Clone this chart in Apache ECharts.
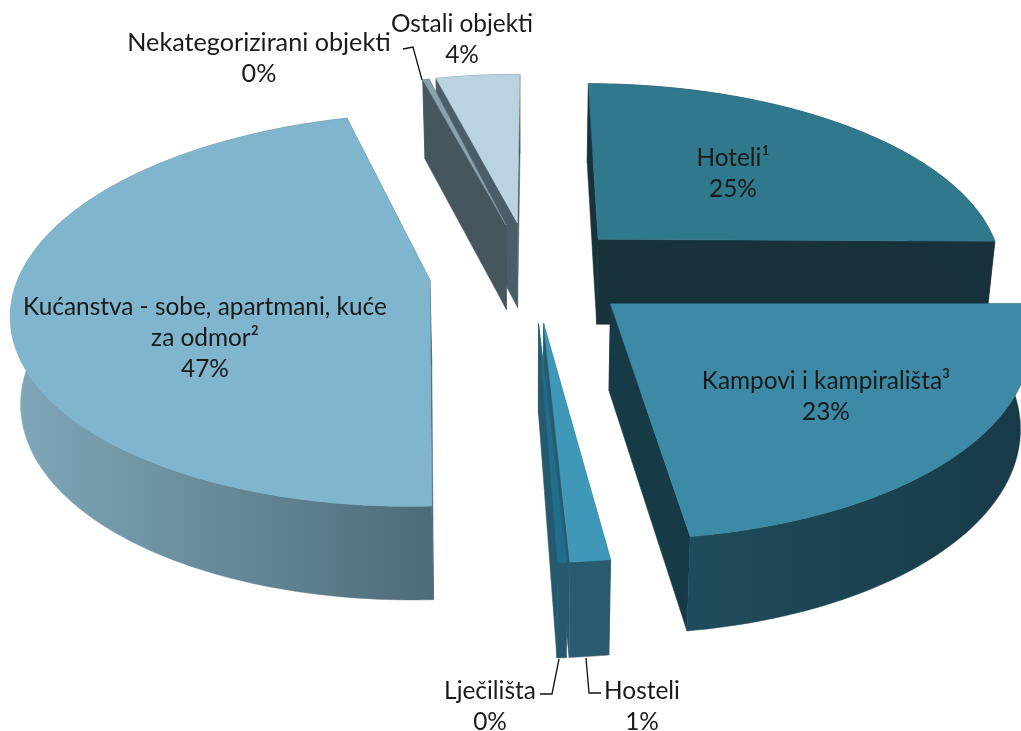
<!DOCTYPE html>
<html><head><meta charset="utf-8">
<style>html,body{margin:0;padding:0;background:#fff}#c{width:1021px;height:731px}</style>
<script src="https://cdn.jsdelivr.net/npm/echarts@6/dist/echarts.min.js"></script>
</head><body><div id="c"></div>
<script>
var categories = ['Hoteli¹','Kampovi i kampirališta³','Hosteli','Lječilišta','Kućanstva - sobe, apartmani, kuće\nza odmor²','Nekategorizirani objekti','Ostali objekti'];
var sliceValues = [25, 22.7, 1.3, 0.3, 46.5, 0.3, 3.9];
var percentLabels = ['25%','23%','1%','0%','47%','0%','4%'];

var topColors = ['#30788c','#3c8aa6','#3f98b8','#1f6f8c','#7fb5cd','#8aa2ae','#b9d3e0'];
var wallColors = [['#17343e','#17323b'],['#1f4c5c','#173a47'],['#2a5a6e','#2a5a6e'],['#26596d','#26596d'],['#7fa8ba','#4e6b79'],['#46565f','#46565f'],['#4b5d68','#4b5d68']];
var paintOrder = [3,7,5,6,4,2,1];
var labelAnchor = [[733,174],[826,397],[642,707],[490,707],[205,338],[259,58],[462,40]];
var labelSize = [24.4,24.4,24.4,24.4,24.4,25.2,24.4];
var leaders = [null,null,[[586,658],[589,693],[601,693]],[[540,694],[552,694],[559,659]],null,[[403,49],[413,47],[422,80]],null];
var sliceShift = [[2,0],[2,0],[-1,0],[2,0],[-1,0],[7,0],[3,0]];
var apexShift = [[1,-2],[5,0],[7,3],[4,3],[2,0],[-4,-5],[-1,-6]];

var VIEW = {cx:527, cy:273, a:408, b:190, k:0.15, depth:86, explode:0.242, shrink:0.98};
function project(X, Y, bottom){
  var s = 1/(1 - VIEW.k*Y);
  var x = VIEW.cx + VIEW.a*X*s, y = VIEW.cy + VIEW.b*Y*s;
  if(bottom){ x = VIEW.cx + (x-VIEW.cx)*VIEW.shrink; y += VIEW.depth*Math.sqrt(s); }
  return [x,y];
}
var total = sliceValues.reduce(function(a,b){return a+b;},0);
function sliceGeom(idx){
  var before = sliceValues.slice(0,idx).reduce(function(a,b){return a+b;},0);
  return {from: before/total*2*Math.PI, to:(before+sliceValues[idx])/total*2*Math.PI};
}
function renderSlice(params, api){
  var i = params.dataIndex, g = sliceGeom(i), mid=(g.from+g.to)/2;
  var ox = VIEW.explode*Math.sin(mid), oy = -VIEW.explode*Math.cos(mid);
  var sh = sliceShift[i], ah = apexShift[i];
  function mv(p,d){ return [p[0]+d[0],p[1]+d[1]]; }
  function rim(t){ return [ox+Math.sin(t), oy-Math.cos(t)]; }
  var steps = Math.max(4, Math.ceil((g.to-g.from)/0.02)), top=[], bot=[];
  for(var n=0;n<=steps;n++){
    var t=g.from+(g.to-g.from)*n/steps, p=rim(t);
    top.push(mv(project(p[0],p[1],false),sh)); bot.push(mv(project(p[0],p[1],true),sh));
  }
  var apexT=mv(mv(project(ox,oy,false),sh),ah), apexB=mv(mv(project(ox,oy,true),sh),ah);
  var z=paintOrder[i]*10, kids=[];
  var solid=wallColors[i][1];
  function poly(points,fill,zz){ kids.push({type:'polygon',shape:{points:points},style:{fill:fill,stroke:fill,lineWidth:0.5},z2:zz}); }
  poly([apexT,top[0],bot[0],apexB],solid,z);
  poly([apexT,top[steps],bot[steps],apexB],solid,z);
  var grad=new echarts.graphic.LinearGradient(0,0,1,0,[{offset:0,color:wallColors[i][0]},{offset:1,color:wallColors[i][1]}]);
  poly(top.concat(bot.slice().reverse()),grad,z+1);
  poly([apexT].concat(top),topColors[i],z+2);
  var lines=categories[i].split('\n').concat([percentLabels[i]]);
  var la=labelAnchor[i];
  kids.push({type:'text',z2:1000,style:{text:lines.join('\n'),x:la[0],y:la[1],align:'center',verticalAlign:'middle',
    font:labelSize[i]+'px Lato, "Open Sans", sans-serif',fill:'#1a1a1a',lineHeight:31}});
  if(leaders[i]) kids.push({type:'polyline',z2:1000,shape:{points:leaders[i]},style:{fill:'none',stroke:'#111',lineWidth:1.3}});
  return {type:'group',children:kids};
}
var chart=echarts.init(document.getElementById('c'),null,{renderer:'canvas'});
chart.setOption({
  backgroundColor:'#fff',animation:false,
  series:[{type:'custom',coordinateSystem:'none',renderItem:renderSlice,
    data:sliceValues.map(function(v,i){return [i,v];})}]
});
</script></body></html>
